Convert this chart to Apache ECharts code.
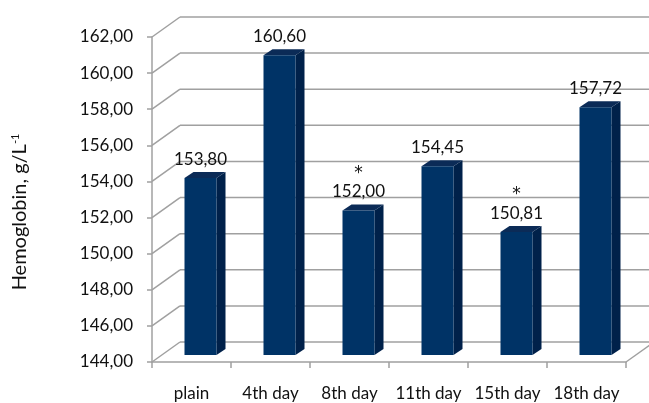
<!DOCTYPE html>
<html>
<head>
<meta charset="utf-8">
<script src="https://cdn.jsdelivr.net/npm/echarts@6/dist/echarts.min.js"></script>
<style>
  html, body { margin: 0; padding: 0; background: #fff; }
  #chart { width: 649px; height: 403px; }
</style>
</head>
<body>
<div id="chart"></div>
<script>
// data
var categories = ['plain', '4th day', '8th day', '11th day', '15th day', '18th day']
var hemoglobin = [153.80, 160.60, 152.00, 154.45, 150.81, 157.72]
var significance = ['', '', '*', '', '*', '']
var yTicks = [144, 146, 148, 150, 152, 154, 156, 158, 160, 162]

var FONT = 'Lato'
var GRID_COLOR = '#a0a0a0'
// 3d look: back wall offset and bar depth
var WALL_DX = 28
var WALL_DY = -20
var BAR_DX1 = 9, BAR_DY1 = -7
var BAR_DX2 = 18, BAR_DY2 = -13
var BAR_W = 32

function fmt(v) {
  return v.toFixed(2).replace('.', ',')
}

var chart = echarts.init(document.getElementById('chart'))

chart.setOption({
  animation: false,
  grid: {
    left: 152,
    top: 37,
    width: 474,
    height: 325
  },
  graphic: [{
    type: 'text',
    x: 20,
    y: 212,
    rotation: Math.PI / 2,
    style: {
      text: '{a|Hemoglobin, g/L}{s|-1}',
      align: 'center',
      verticalAlign: 'middle',
      rich: {
        a: { fontFamily: FONT, fontSize: 20, fill: '#111' },
        s: { fontFamily: FONT, fontSize: 11, fill: '#111', padding: [0, 0, 10, 0] }
      }
    }
  }],
  xAxis: {
    type: 'category',
    data: categories,
    axisLine: { lineStyle: { color: GRID_COLOR, width: 1.5 } },
    axisTick: { show: true, length: 6, lineStyle: { color: GRID_COLOR, width: 1.5 } },
    axisLabel: { color: '#111', fontFamily: FONT, fontSize: 17, margin: 23, interval: 0 },
    splitLine: { show: false }
  },
  yAxis: {
    type: 'value',
    min: 144,
    max: 162,
    interval: 2,
    axisLine: { show: true, lineStyle: { color: GRID_COLOR, width: 1.5 } },
    axisTick: { show: true, length: 5, lineStyle: { color: GRID_COLOR, width: 1.5 } },
    axisLabel: {
      color: '#111',
      fontFamily: FONT,
      fontSize: 17,
      margin: 19,
      formatter: fmt
    },
    splitLine: { show: false }
  },
  series: [
    {
      // back wall gridlines with their diagonal connectors
      type: 'custom',
      silent: true,
      z: 1,
      data: yTicks.map(function (v) { return [0, v] }),
      renderItem: function (params, api) {
        var cs = params.coordSys
        var y = api.coord([0, api.value(1)])[1]
        var x0 = cs.x
        var x1 = cs.x + cs.width
        var children = [
          {
            type: 'line',
            shape: { x1: x0, y1: y, x2: x0 + WALL_DX, y2: y + WALL_DY },
            style: { stroke: GRID_COLOR, lineWidth: 1.5 }
          },
          {
            type: 'line',
            shape: { x1: x0 + WALL_DX, y1: y + WALL_DY, x2: x1 + WALL_DX, y2: y + WALL_DY },
            style: { stroke: GRID_COLOR, lineWidth: 1.5 }
          }
        ]
        if (params.dataIndex === 0) {
          children.push({
            type: 'line',
            shape: { x1: x1, y1: y, x2: x1 + WALL_DX, y2: y + WALL_DY },
            style: { stroke: GRID_COLOR, lineWidth: 1.5 }
          })
        }
        return { type: 'group', children: children }
      }
    },
    {
      type: 'custom',
      z: 3,
      data: hemoglobin.map(function (v, i) { return [i, v] }),
      renderItem: function (params, api) {
        var i = api.value(0)
        var top = api.coord([i, api.value(1)])
        var base = api.coord([i, 144])
        var xl = top[0] - BAR_W / 2 + BAR_DX1
        var xr = xl + BAR_W
        var yt = top[1] + BAR_DY1
        var yb = base[1] + BAR_DY1
        var ddx = BAR_DX2 - BAR_DX1
        var ddy = BAR_DY2 - BAR_DY1
        var sig = significance[i]
        var label = (sig ? '{s|' + sig + '}\n' : '') + '{v|' + fmt(api.value(1)) + '}'
        return {
          type: 'group',
          children: [
            {
              type: 'polygon',
              shape: { points: [[xr, yt], [xr + ddx, yt + ddy], [xr + ddx, yb + ddy], [xr, yb]] },
              style: { fill: '#00214a' }
            },
            {
              type: 'polygon',
              shape: { points: [[xl, yt], [xl + ddx, yt + ddy], [xr + ddx, yt + ddy], [xr, yt]] },
              style: { fill: '#0b2b57' }
            },
            {
              type: 'rect',
              shape: { x: xl, y: yt, width: BAR_W, height: yb - yt },
              style: { fill: '#003366' }
            },
            {
              type: 'text',
              x: (xl + xr) / 2,
              y: yt - 9,
              style: {
                text: label,
                align: 'center',
                verticalAlign: 'bottom',
                rich: {
                  v: { fontFamily: FONT, fontSize: 17, fill: '#111', lineHeight: 20 },
                  s: { fontFamily: 'DejaVu Sans', fontSize: 17, fill: '#111', lineHeight: 16 }
                }
              }
            }
          ]
        }
      }
    }
  ]
})
</script>
</body>
</html>
